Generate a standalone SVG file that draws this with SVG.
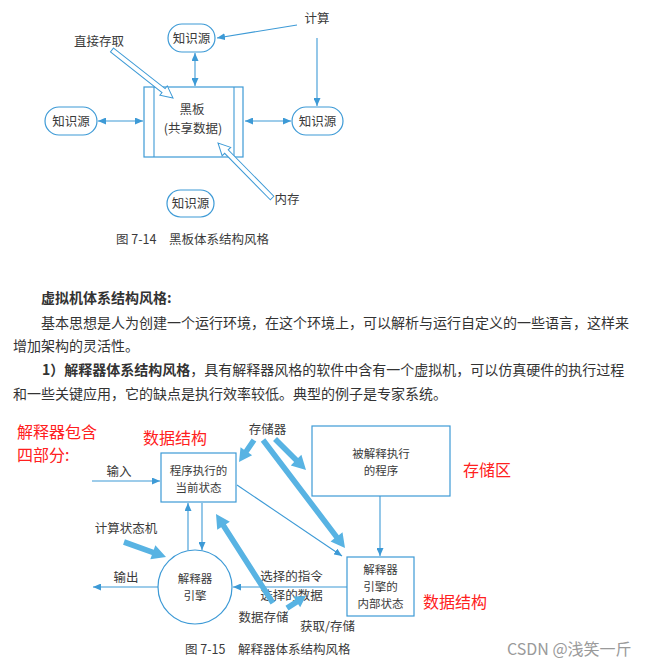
<svg xmlns="http://www.w3.org/2000/svg" width="658" height="669" viewBox="0 0 658 669">
<style>
.bg{fill:#ffffff}
.nd{fill:#ffffff;stroke:#3d9ad6;stroke-width:1.2}
.ln{fill:none;stroke:#3d9ad6;stroke-width:1.1}
.hol{fill:#ffffff;stroke:#3d9ad6;stroke-width:1}
.thk{fill:#58b3e3;stroke:none}
.t{font-family:"Noto Sans CJK SC","Liberation Sans",sans-serif;font-size:12.5px;fill:#3a3a3a;text-anchor:middle}
.tm{font-family:"Noto Sans CJK SC","Liberation Sans",sans-serif;font-size:11.5px;fill:#3a3a3a;text-anchor:middle}
.cap{font-family:"Noto Sans CJK SC","Liberation Sans",sans-serif;font-size:12.5px;fill:#3a3a3a}
.body{font-family:"Noto Sans CJK SC","Liberation Sans",sans-serif;font-size:14px;fill:#333333}
.red{font-family:"Noto Sans CJK SC","Liberation Sans",sans-serif;font-size:16px;fill:#ff2020}
.wm{font-family:"Noto Sans CJK SC","Liberation Sans",sans-serif;font-size:16px;fill:#9a9a9a}
</style>
<defs>
<marker id="ah" markerUnits="userSpaceOnUse" markerWidth="8" markerHeight="7" refX="8" refY="3.5" orient="auto-start-reverse" viewBox="0 0 8 7">
<path d="M0,0 L8,3.5 L0,7 z" fill="#3d9ad6"/>
</marker>
</defs>
<rect class="bg" x="0" y="0" width="658" height="669"/>

<!-- ===== Figure 7-14 ===== -->
<g id="ks-top"><rect class="nd" x="168" y="24" width="47" height="28" rx="14"/><text class="t" x="191.5" y="42.5">知识源</text></g>
<g id="ks-left"><rect class="nd" x="45" y="107" width="52" height="28" rx="14"/><text class="t" x="71" y="125.5">知识源</text></g>
<g id="ks-right"><rect class="nd" x="292" y="107" width="51" height="28" rx="14"/><text class="t" x="317.5" y="125.5">知识源</text></g>
<g id="ks-bottom"><rect class="nd" x="167" y="190" width="47" height="27" rx="13.5"/><text class="t" x="190.5" y="208">知识源</text></g>
<g id="blackboard">
<rect class="nd" x="144" y="87" width="99" height="70"/>
<line class="ln" x1="154" y1="87" x2="154" y2="157"/>
<line class="ln" x1="234" y1="87" x2="234" y2="157"/>
<text class="t" x="192" y="114">黑板<tspan x="193" y="133">(共享数据)</tspan></text>
</g>
<g id="lbl-calc"><text class="t" x="317" y="23">计算</text></g>
<g id="lbl-direct"><text class="t" x="99" y="46">直接存取</text></g>
<g id="lbl-mem"><text class="t" x="287" y="204">内存</text></g>
<g id="bb-connectors">
<line class="ln" x1="195" y1="53" x2="195" y2="86" marker-start="url(#ah)" marker-end="url(#ah)"/>
<line class="ln" x1="98" y1="121" x2="143" y2="121" marker-start="url(#ah)" marker-end="url(#ah)"/>
<line class="ln" x1="245" y1="121" x2="291" y2="121" marker-start="url(#ah)" marker-end="url(#ah)"/>
<line class="ln" x1="297" y1="25" x2="217" y2="38" marker-end="url(#ah)"/>
<line class="ln" x1="317" y1="38" x2="317" y2="106" marker-end="url(#ah)"/>
<path class="hol" transform="translate(173,98) rotate(38.2)" d="M-77.6,-2.5 L-12,-2.5 L-12,-6 L0,0 L-12,6 L-12,2.5 L-77.6,2.5 Z"/>
<path class="hol" transform="translate(218,143) rotate(-134.5)" d="M-77.1,-2.5 L-12,-2.5 L-12,-6 L0,0 L-12,6 L-12,2.5 L-77.1,2.5 Z"/>
</g>
<text class="cap" x="116" y="244">图 7-14<tspan x="169">黑板体系结构风格</tspan></text>

<!-- ===== Body text ===== -->
<text class="body" x="41" y="303" font-weight="700">虚拟机体系结构风格:</text>
<text class="body" x="41" y="328">基本思想是人为创建一个运行环境，在这个环境上，可以解析与运行自定义的一些语言，这样来</text>
<text class="body" x="13" y="351">增加架构的灵活性。</text>
<text class="body" x="42" y="375"><tspan font-weight="700">1）解释器体系结构风格</tspan>，具有解释器风格的软件中含有一个虚拟机，可以仿真硬件的执行过程</text>
<text class="body" x="13" y="399">和一些关键应用，它的缺点是执行效率较低。典型的例子是专家系统。</text>

<!-- ===== Figure 7-15 ===== -->
<g id="int-connectors">
<line class="ln" x1="92" y1="481" x2="160" y2="481" marker-end="url(#ah)"/>
<line class="ln" x1="158" y1="587" x2="93" y2="587" marker-end="url(#ah)"/>
<line class="ln" x1="188" y1="550" x2="188" y2="503" marker-end="url(#ah)"/>
<line class="ln" x1="202" y1="503" x2="202" y2="550" marker-end="url(#ah)"/>
<line class="ln" x1="380" y1="496" x2="380" y2="556" marker-end="url(#ah)"/>
<line class="ln" x1="237" y1="485" x2="342" y2="556" marker-end="url(#ah)"/>
<line class="ln" x1="347" y1="587" x2="233" y2="587" marker-end="url(#ah)"/>
</g>
<g id="cur-state"><rect class="nd" x="161" y="453" width="75" height="49"/>
<text class="tm" x="198.5" y="475">程序执行的<tspan x="198.5" y="492">当前状态</tspan></text></g>
<g id="program"><rect class="nd" x="312" y="426" width="138" height="70"/>
<text class="tm" x="381" y="458">被解释执行<tspan x="381" y="475">的程序</tspan></text></g>
<g id="int-state"><rect class="nd" x="347" y="557" width="67" height="59"/>
<text class="tm" x="380.5" y="574">解释器<tspan x="380.5" y="591">引擎的</tspan><tspan x="380.5" y="608">内部状态</tspan></text></g>
<g id="engine"><circle class="nd" cx="195" cy="587" r="37"/>
<text class="tm" x="195" y="583">解释器<tspan x="195" y="600">引擎</tspan></text></g>
<g id="int-labels">
<text class="t" x="119" y="475.5">输入</text>
<text class="t" x="126" y="581.5">输出</text>
<text class="t" x="126" y="532.5">计算状态机</text>
<text class="t" x="267.5" y="434">存储器</text>
<text class="t" x="291.5" y="581">选择的指令<tspan x="291.5" y="599.5">选择的数据</tspan></text>
<text class="t" x="263.5" y="621.5">数据存储</text>
<text class="t" x="327.5" y="630.5">获取/存储</text>
</g>
<g id="thick-arrows">
<path class="thk" transform="translate(166,557) rotate(19.65)" d="M-44.6,-2.8 L-14,-2.8 L-14,-7.5 L0,0 L-14,7.5 L-14,2.8 L-44.6,2.8 Z"/>
<path class="thk" transform="translate(239,462) rotate(124.3)" d="M-26.6,-2.8 L-13,-2.8 L-13,-7 L0,0 L-13,7 L-13,2.8 L-26.6,2.8 Z"/>
<path class="thk" transform="translate(345,548) rotate(52.8)" d="M-135.6,-2.8 L-14,-2.8 L-14,-7.5 L0,0 L-14,7.5 L-14,2.8 L-135.6,2.8 Z"/>
<path class="thk" transform="translate(306,470) rotate(45)" d="M-43.8,-2.8 L-14,-2.8 L-14,-7.5 L0,0 L-14,7.5 L-14,2.8 L-43.8,2.8 Z"/>
<path class="thk" transform="translate(216,514) rotate(-122.6)" d="M-105.7,-2.8 L-14,-2.8 L-14,-7.5 L0,0 L-14,7.5 L-14,2.8 L-105.7,2.8 Z"/>
<path class="thk" transform="translate(306,596) rotate(-32.3)" d="M-22.5,-2.8 L-11,-2.8 L-11,-6.5 L0,0 L-11,6.5 L-11,2.8 L-22.5,2.8 Z"/>
</g>
<g id="annotations">
<text class="red" x="17" y="438">解释器包含<tspan x="17" y="461">四部分:</tspan></text>
<text class="red" x="143" y="444">数据结构</text>
<text class="red" x="463" y="476">存储区</text>
<text class="red" x="423" y="608">数据结构</text>
</g>
<text class="cap" x="185" y="654">图 7-15<tspan x="238">解释器体系结构风格</tspan></text>
<text class="wm" x="507" y="655">CSDN @浅笑一斤</text>
</svg>
